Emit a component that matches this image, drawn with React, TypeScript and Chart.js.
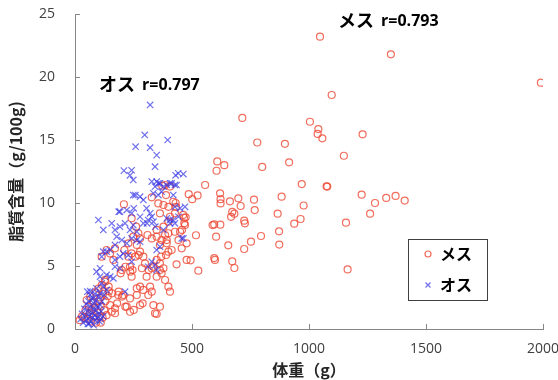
import { useEffect, useRef } from "react";
import { Chart, registerables } from "chart.js";

Chart.register(...registerables);

// ---- data ----
const seriesNames = ["メス", "オス"];
const correlations = ["r=0.793", "r=0.797"];
const xTicks = [0, 500, 1000, 1500, 2000];
const yTicks = [0, 5, 10, 15, 20, 25];
const xTitle = "体重（g）";
const yTitle = "脂質含量（g/100g)";

const femaleWeight = [
  1047, 1350, 1991, 1097, 1004, 1040, 1037, 1057, 1229, 779, 897, 1149, 800, 915, 969, 1075, 1078, 765, 883, 1225,
  1282, 1330, 1370, 1409, 1261, 768, 977, 866, 964, 937, 1158, 872, 795, 752, 873, 1165, 715, 608, 605, 638,
  556, 373, 486, 501, 524, 620, 622, 622, 662, 698, 708, 672, 681, 723, 726, 667, 595, 588, 621, 603,
  655, 723, 595, 598, 672, 681, 527, 477, 494, 517, 477, 462, 466, 473, 467, 457, 449, 456, 434, 432,
  430, 385, 406, 420, 427, 470, 427, 442, 209, 389, 328, 242, 261, 249, 228, 264, 278, 211, 171, 150,
  135, 164, 114, 200, 195, 242, 278, 292, 264, 321, 328, 313, 264, 235, 206, 185, 221, 235, 171, 171,
  150, 157, 278, 289, 335, 363, 342, 349, 306, 349, 370, 385, 399, 406, 363, 378, 328, 335, 349, 363,
  368, 389, 399, 413, 363, 392, 392, 370, 349, 385, 399, 349, 378, 399, 406, 363, 399, 356, 378, 310,
  328, 278, 271, 292, 299, 235, 246, 228, 242, 215, 236, 258, 272, 286, 315, 130, 144, 158, 187, 201,
  180, 215, 251, 40, 45, 50, 55, 60, 62, 65, 70, 72, 78, 80, 85, 88, 90, 95, 98, 100,
  105, 108, 110, 115, 118, 120, 125, 128, 130, 135, 140, 145, 20, 30, 110,
];
const femaleLipid = [
  23.2, 21.8, 19.55, 18.57, 16.45, 15.87, 15.48, 15.13, 15.45, 14.8, 14.7, 13.75, 12.86, 13.23, 11.5, 11.32, 11.3, 10.26, 10.5, 10.66,
  10.0, 10.4, 10.56, 10.19, 9.15, 9.44, 9.8, 9.15, 8.73, 8.36, 8.44, 7.75, 7.38, 6.93, 6.7, 4.73, 16.75, 13.3, 12.56, 13.0,
  11.43, 11.37, 10.7, 10.3, 10.6, 10.77, 10.3, 9.97, 10.13, 10.37, 9.76, 9.29, 9.15, 8.6, 8.39, 8.9, 8.3, 8.25, 8.28, 7.33,
  6.64, 6.35, 5.63, 5.48, 5.37, 4.84, 4.63, 5.48, 5.45, 7.44, 6.8, 9.05, 8.83, 8.86, 8.39, 7.86, 7.72, 6.4, 5.13, 9.7,
  10.0, 11.43, 11.3, 10.1, 9.18, 8.25, 7.72, 7.06, 9.9, 10.63, 10.45, 8.78, 8.12, 7.33, 6.8, 6.67, 6.14, 6.27, 6.4, 6.0,
  6.27, 5.48, 5.74, 4.68, 4.42, 4.15, 3.36, 3.1, 3.23, 3.36, 2.96, 2.7, 2.7, 2.43, 2.7, 2.7, 1.77, 1.37, 1.64, 1.25,
  1.9, 1.37, 1.9, 2.04, 1.9, 1.77, 1.25, 1.19, 4.15, 4.15, 4.42, 3.89, 3.36, 2.96, 4.68, 4.82, 4.82, 4.94, 5.48, 5.21,
  5.74, 5.87, 6.14, 6.27, 6.67, 6.8, 7.06, 7.06, 7.33, 7.46, 7.6, 7.86, 8.12, 8.52, 8.91, 9.18, 9.7, 9.97, 9.84, 7.46,
  7.19, 7.19, 7.6, 5.74, 5.21, 4.94, 4.68, 5.74, 6.0, 4.94, 4.55, 5.74, 5.87, 4.82, 4.68, 3.76, 3.36, 2.83, 2.96, 2.57,
  2.04, 1.77, 1.51, 0.9, 1.5, 2.3, 0.8, 1.8, 1.2, 2.6, 0.6, 1.5, 2.1, 1.0, 1.7, 2.9, 0.5, 1.3, 2.2, 3.2,
  1.0, 2.5, 1.8, 3.5, 0.9, 2.8, 1.5, 3.9, 2.2, 1.1, 2.6, 3.0, 0.7, 1.0, 0.5,
];

const maleWeight = [
  321, 298, 396, 259, 321, 349, 342, 209, 242, 249, 235, 430, 463, 328, 349, 363, 406, 427, 342, 356,
  378, 335, 356, 370, 392, 249, 278, 292, 192, 221, 242, 306, 321, 328, 313, 335, 292, 278, 392, 420,
  427, 406, 456, 100, 121, 157, 171, 192, 214, 235, 249, 264, 242, 264, 278, 178, 200, 221, 171, 121,
  135, 150, 114, 171, 192, 206, 228, 242, 171, 192, 107, 92, 107, 135, 150, 164, 328, 342, 349, 313,
  349, 363, 114, 121, 92, 135, 107, 53, 64, 78, 214, 441, 413, 434, 420, 427, 449, 470, 406, 442,
  463, 378, 258, 187, 251, 343, 308, 25, 30, 35, 40, 45, 48, 50, 55, 58, 60, 62, 65, 68,
  70, 72, 75, 78, 80, 82, 85, 88, 90, 92, 95, 98, 100, 102, 105, 108, 112, 115, 120, 125,
  65, 85, 55, 110,
];
const maleLipid = [
  17.78, 15.4, 15.0, 14.47, 14.39, 13.8, 12.88, 12.57, 12.6, 11.83, 12.2, 12.2, 12.3, 11.7, 11.7, 11.56, 11.56, 11.43, 11.3, 11.56,
  11.3, 10.77, 10.63, 10.9, 11.43, 10.63, 10.5, 10.24, 9.31, 9.44, 9.18, 9.58, 9.18, 8.91, 8.65, 8.52, 8.39, 8.91, 8.78, 8.65,
  8.39, 8.39, 7.19, 8.65, 7.86, 8.39, 7.86, 8.12, 8.39, 7.86, 8.25, 7.72, 7.19, 7.06, 6.93, 7.33, 7.06, 6.8, 6.67, 6.14,
  6.14, 6.27, 5.74, 5.48, 5.74, 6.0, 5.87, 5.34, 4.94, 4.82, 4.82, 4.55, 4.15, 4.29, 4.15, 4.02, 5.34, 5.08, 4.68, 4.94,
  6.27, 6.53, 3.63, 3.36, 3.23, 3.1, 2.83, 2.96, 2.7, 2.43, 2.96, 12.36, 11.56, 11.43, 10.63, 9.7, 9.58, 9.7, 8.65, 8.91,
  7.19, 7.86, 10.63, 9.31, 9.58, 8.12, 8.39, 0.8, 1.2, 0.5, 1.6, 1.0, 2.0, 0.7, 1.4, 2.2, 0.4, 1.0, 1.8, 0.6,
  1.3, 2.4, 0.9, 1.6, 0.3, 2.0, 1.1, 0.7, 1.5, 2.3, 0.9, 1.8, 1.2, 2.6, 0.6, 1.9, 1.4, 2.2, 1.0, 2.7,
  3.0, 2.8, 0.4, 0.8,
];

const toPoints = (xs: number[], ys: number[]) => xs.map((x, i) => ({ x, y: ys[i] }));

const RED = "rgba(238, 72, 52, 0.8)";
const BLUE = "rgba(55, 55, 230, 0.72)";
const JP = '"Noto Sans CJK JP", "Noto Sans", sans-serif';
const NUM = '"Open Sans", "Noto Sans", sans-serif';

const overlayPlugin = {
  id: "overlay",
  afterDraw(chart: any) {
    const { ctx, chartArea, scales } = chart;
    const xs = scales.x;
    const ys = scales.y;
    ctx.save();
    // inner tick marks
    ctx.strokeStyle = "#868686";
    ctx.lineWidth = 1;
    ctx.beginPath();
    xTicks.forEach((v) => {
      const px = Math.round(xs.getPixelForValue(v)) + 0.5;
      ctx.moveTo(px, chartArea.bottom);
      ctx.lineTo(px, chartArea.bottom - 5);
    });
    yTicks.forEach((v) => {
      const py = Math.round(ys.getPixelForValue(v)) + 0.5;
      ctx.moveTo(chartArea.left, py);
      ctx.lineTo(chartArea.left + 5, py);
    });
    ctx.stroke();

    // correlation annotations
    const notes = [
      { name: seriesNames[0], r: correlations[0], x: 1124, y: 24.5 },
      { name: seriesNames[1], r: correlations[1], x: 103, y: 19.4 },
    ];
    ctx.fillStyle = "#000000";
    ctx.textBaseline = "middle";
    ctx.textAlign = "left";
    notes.forEach((n) => {
      const px = xs.getPixelForValue(n.x);
      const py = ys.getPixelForValue(n.y);
      ctx.font = `bold 18px ${JP}`;
      ctx.fillText(n.name, px, py);
      const w = ctx.measureText(n.name).width;
      ctx.font = `bold 16px ${NUM}`;
      ctx.fillText(n.r, px + w + 7, py + 1);
    });

    // legend box
    const bx = chartArea.right - 135;
    const by = chartArea.bottom - 90;
    const bw = 79;
    const bh = 61;
    ctx.fillStyle = "#ffffff";
    ctx.fillRect(bx, by, bw, bh);
    ctx.strokeStyle = "#404040";
    ctx.lineWidth = 1;
    ctx.strokeRect(bx + 0.5, by + 0.5, bw, bh);
    const mx = bx + 20;
    const y1 = by + 15;
    const y2 = by + 46;
    ctx.strokeStyle = RED;
    ctx.lineWidth = 1.2;
    ctx.beginPath();
    ctx.arc(mx, y1, 3, 0, Math.PI * 2);
    ctx.stroke();
    ctx.strokeStyle = BLUE;
    ctx.beginPath();
    ctx.moveTo(mx - 2.5, y2 - 2.5);
    ctx.lineTo(mx + 2.5, y2 + 2.5);
    ctx.moveTo(mx - 2.5, y2 + 2.5);
    ctx.lineTo(mx + 2.5, y2 - 2.5);
    ctx.stroke();
    ctx.fillStyle = "#000000";
    ctx.font = `bold 16px ${JP}`;
    ctx.textBaseline = "middle";
    ctx.fillText(seriesNames[0], mx + 12, y1);
    ctx.fillText(seriesNames[1], mx + 12, y2);
    ctx.restore();
  },
};

export default function App() {
  const ref = useRef<HTMLCanvasElement | null>(null);

  useEffect(() => {
    document.body.style.margin = "0";
    const canvas = ref.current;
    if (!canvas) return;
    const chart = new Chart(canvas, {
      type: "scatter",
      data: {
        datasets: [
          {
            label: seriesNames[0],
            data: toPoints(femaleWeight, femaleLipid),
            pointStyle: "circle",
            pointRadius: 3.5,
            pointBorderWidth: 1.2,
            borderColor: RED,
            backgroundColor: "rgba(0,0,0,0)",
            order: 2,
          },
          {
            label: seriesNames[1],
            data: toPoints(maleWeight, maleLipid),
            pointStyle: "crossRot",
            pointRadius: 4.5,
            pointBorderWidth: 1.2,
            borderColor: BLUE,
            backgroundColor: BLUE,
            order: 1,
          },
        ],
      },
      options: {
        responsive: false,
        animation: false,
        layout: { padding: { left: 0, top: 14, right: 15, bottom: 0 } },
        plugins: {
          legend: { display: false },
          tooltip: { enabled: false },
        },
        scales: {
          x: {
            type: "linear",
            min: 0,
            max: 2000,
            afterFit: (s: any) => {
              s.height = 51;
              s.paddingLeft = 0;
              s.paddingRight = 0;
            },
            afterBuildTicks: (s: any) => {
              s.ticks = xTicks.map((v) => ({ value: v }));
            },
            grid: { display: true, drawOnChartArea: false, drawTicks: false },
            border: { display: true, color: "#868686", width: 1 },
            ticks: {
              padding: 12,
              color: "#404040",
              font: { family: NUM, size: 14 },
              callback: (v: any) => String(v),
            },
            title: {
              display: true,
              text: xTitle,
              color: "#262626",
              font: { family: JP, size: 16, weight: "bold" },
              padding: { top: 0, bottom: 0 },
            },
          },
          y: {
            type: "linear",
            min: 0,
            max: 25,
            afterFit: (s: any) => {
              s.width = 75;
              s.paddingTop = 0;
              s.paddingBottom = 0;
            },
            afterBuildTicks: (s: any) => {
              s.ticks = yTicks.map((v) => ({ value: v }));
            },
            grid: { display: true, drawOnChartArea: false, drawTicks: false },
            border: { display: true, color: "#868686", width: 1 },
            ticks: {
              padding: 20,
              color: "#404040",
              font: { family: NUM, size: 14 },
              callback: (v: any) => String(v),
            },
            title: {
              display: true,
              text: yTitle,
              color: "#262626",
              font: { family: JP, size: 16, weight: "bold" },
              padding: { top: 6, bottom: 0 },
            },
          },
        },
      },
      plugins: [overlayPlugin],
    });
    return () => chart.destroy();
  }, []);

  return (
    <div style={{ width: 558, height: 380 }}>
      <canvas ref={ref} width={558} height={380} style={{ display: "block" }} />
    </div>
  );
}
